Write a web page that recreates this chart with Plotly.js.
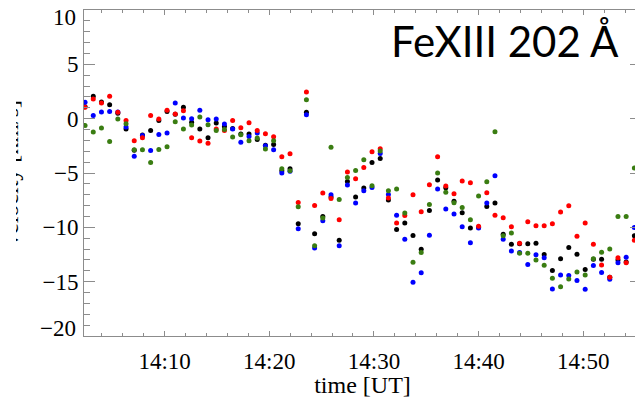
<!DOCTYPE html>
<html><head><meta charset="utf-8">
<script src="https://cdn.plot.ly/plotly-3.0.1.min.js"></script>
<style>
html,body{margin:0;padding:0;overflow:hidden;background:#fff}
#chart{width:645px;height:398px}
#mask{position:absolute;left:0;top:0;width:16px;height:398px;background:#fff}
</style>
</head><body><div id="chart"></div><div id="mask"></div>
<script>
const day = '2011-01-01 ';
const times = ['14:02:24','14:03:11','14:03:58','14:04:45','14:05:32','14:06:19','14:07:06','14:07:53','14:08:40','14:09:27',
'14:10:14','14:11:01','14:11:48','14:12:35','14:13:22','14:14:09','14:14:56','14:15:43','14:16:30','14:17:17',
'14:18:04','14:18:51','14:19:38','14:20:25','14:21:12','14:21:59','14:22:46','14:23:33','14:24:20','14:25:07',
'14:25:54','14:26:41','14:27:28','14:28:15','14:29:02','14:29:49','14:30:36','14:31:23','14:32:10','14:32:57',
'14:33:44','14:34:31','14:35:18','14:36:05','14:36:52','14:37:39','14:38:26','14:39:13','14:40:00','14:40:47',
'14:41:34','14:42:21','14:43:08','14:43:55','14:44:42','14:45:29','14:46:16','14:47:03','14:47:50','14:48:37',
'14:49:24','14:50:11','14:50:58','14:51:45','14:52:32','14:53:19','14:54:06','14:54:53'];
const red = [1.04,1.82,1.45,2.06,0.6,-0.16,-2.03,-1.75,0.3,-0.03,
0.77,0.43,0.74,-1.75,-2.06,-2.27,-0.95,-1.08,-0.16,-0.83,
-0.37,-1.08,-1.38,-1.66,-3.5,-3.23,-7.71,2.46,-7.99,-6.85,
-7.35,-9.3,-4.91,-5.53,-4.49,-3.04,-2.76,-7.3,-9.6,-8.91,
-7.0,-8.57,-6.08,-3.5,-6.2,-6.91,-5.74,-5.9,-9.89,-6.82,
-8.88,-9.12,-9.95,-11.46,-9.49,-9.86,-9.86,-9.68,-8.6,-8.02,
-10.81,-9.61,-11.55,-13.46,-14.6,-12.79,-13.25,-11.18];
const black = [1.1,2.06,1.54,1.29,0.5,-0.95,-2.9,-1.5,-1.1,-0.16,
0.67,0.4,1.04,-0.34,-0.95,-1.75,-0.4,-0.71,-0.9,-1.4,
-1.41,-1.91,-2.45,-2.37,-4.8,-4.61,-9.68,0.58,-10.6,-9.0,
-7.2,-11.2,-5.78,-7.22,-6.39,-4.03,-3.66,-7.49,-10.2,-9.61,
-10.76,-12.01,-8.45,-5.65,-6.36,-7.6,-8.66,-10.07,-10.0,-8.08,
-7.77,-10.63,-11.55,-11.5,-11.52,-11.46,-12.51,-13.98,-12.88,-11.86,
-12.47,-13.89,-12.93,-12.93,-14.59,-13.0,-13.18,-10.78];
const blue = [1.5,0.28,0.62,0.67,0.62,-0.77,-3.47,-1.54,-2.92,-1.45,
-1.32,1.45,0.06,0.0,0.77,-0.09,-0.03,-0.49,-0.95,-2.18,
-1.63,-1.32,-2.49,-2.86,-5.0,-4.85,-10.14,0.37,-11.9,-9.4,
-7.0,-11.7,-6.11,-7.77,-6.64,-6.33,-3.2,-6.98,-8.88,-11.09,
-15.05,-14.19,-10.72,-6.48,-8.32,-8.78,-9.95,-11.43,-10.07,-7.77,
-5.25,-11.09,-12.17,-12.32,-13.43,-12.53,-12.79,-15.67,-14.38,-14.44,
-14.9,-15.7,-13.52,-14.16,-14.78,-13.25,-12.75,-10.02];
const green = [-0.62,-1.23,-0.86,-2.09,-0.03,-0.46,-2.86,-2.86,-4.03,-2.83,
-2.58,-0.28,-0.95,-0.58,0.16,-0.55,-1.08,-1.0,-1.69,-1.47,
-2.03,-1.78,-2.79,-2.03,-4.61,-4.79,-8.11,1.75,-11.7,-9.15,
-2.64,-7.44,-5.41,-4.76,-3.78,-6.18,-2.98,-6.64,-6.48,-8.69,
-13.21,-12.32,-7.9,-5.0,-6.76,-7.74,-8.17,-9.31,-7.12,-5.81,
-1.2,-10.78,-10.51,-12.38,-12.38,-13.0,-13.49,-14.68,-15.46,-14.75,
-14.1,-14.38,-12.9,-12.29,-12.0,-9.0,-9.0,-4.54];
const yTickVals = [5, 0, -5, -10, -15];
const yEndVals = [10, -20];
const yEndLabels = ['10', '\u221220'];

const x = times.map(t => day + t);
const series = [
  {name:'black', y:black, color:'#000000'},
  {name:'blue', y:blue, color:'#0000ff'},
  {name:'red', y:red, color:'#ff0000'},
  {name:'green', y:green, color:'#3a7d12'}
];
const traces = series.map(s => ({
  type:'scatter', mode:'markers', x:x, y:s.y, name:s.name,
  marker:{size:5, color:s.color}, cliponaxis:true, hoverinfo:'skip'
}));

const axCol = '#8c8c8c';
const serif = 'Liberation Serif, Times New Roman, serif';
const endShift = [-7.5, 7.5];
const endAnn = yEndVals.map((v, i) => ({
  text: yEndLabels[i], xref:'paper', yref:'y', x:0, y:v, xanchor:'right', yanchor:'middle',
  xshift:-6, yshift:endShift[i], showarrow:false,
  font:{family:serif, size:23, color:'#000'}
}));
const layout = {
  width:645, height:398,
  margin:{l:84, r:4, t:10, b:62},
  paper_bgcolor:'#fff', plot_bgcolor:'#fff',
  showlegend:false,
  xaxis:{
    type:'date',
    range:[day+'14:02:18', day+'14:55:31'],
    tick0: day+'14:00:00', dtick:600000, tickformat:'%H:%M',
    ticks:'inside', ticklen:5, tickcolor:axCol, tickwidth:1,
    minor:{dtick:120000, ticks:'inside', ticklen:2.7, tickcolor:axCol},
    showline:true, linecolor:axCol, linewidth:1, mirror:'ticks',
    showgrid:false, zeroline:false, ticklabelstandoff:4,
    tickfont:{family:serif, size:23, color:'#000'},
    title:{text:'time [UT]', font:{family:serif, size:24, color:'#000'}, standoff:5}
  },
  yaxis:{
    range:[-20,10], tickmode:'array', tickvals:yTickVals,
    ticks:'inside', ticklen:11, tickcolor:axCol, tickwidth:1,
    minor:{tickmode:'linear', tick0:0, dtick:1, ticks:'inside', ticklen:5.7, tickcolor:axCol},
    showline:true, linecolor:axCol, linewidth:1, mirror:'ticks',
    showgrid:false, zeroline:false,
    tickfont:{family:serif, size:23, color:'#000'}
  },
  annotations:[
    {text:'FeXIII 202 Å', xref:'paper', yref:'paper', x:(621-84)/557, xanchor:'right',
     y:(336-41)/326, yanchor:'middle', showarrow:false,
     font:{family:'Lato, Open Sans, sans-serif', size:42, color:'#000'}},
    {text:'velocity [km/s]', xref:'paper', yref:'paper', x:0, xanchor:'right', xshift:-59,
     y:0.5, yanchor:'middle', textangle:-90, showarrow:false,
     font:{family:serif, size:24, color:'#000'}}
  ].concat(endAnn)
};
Plotly.newPlot('chart', traces, layout, {staticPlot:true, displayModeBar:false});
</script>
</body></html>
